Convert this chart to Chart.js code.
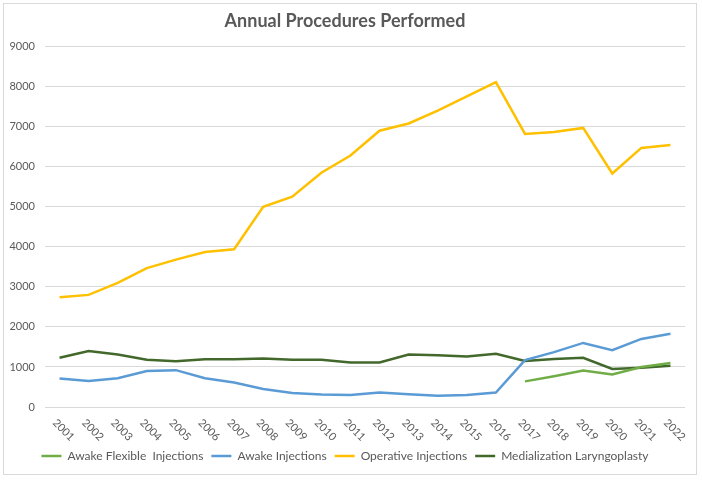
<!DOCTYPE html>
<html>
<head>
<meta charset="utf-8">
<script src="https://cdn.jsdelivr.net/npm/chart.js@4.4.1/dist/chart.umd.min.js"></script>
<style>
  html, body { margin: 0; padding: 0; background: #fff; }
  #wrap {
    position: absolute; left: 3px; top: 3px;
    width: 692px; height: 470px;
    border: 1px solid #d9d9d9;
  }
</style>
</head>
<body>
<div id="wrap"><canvas id="procChart"></canvas></div>
<script>
// Chart data
const years = ['2001', '2002', '2003', '2004', '2005', '2006', '2007', '2008', '2009', '2010', '2011',
  '2012', '2013', '2014', '2015', '2016', '2017', '2018', '2019', '2020', '2021', '2022'];

const awakeFlexible = [null, null, null, null, null, null, null, null, null, null, null,
  null, null, null, null, null, 640, 770, 910, 810, 1000, 1100];
const awakeInjections = [710, 650, 720, 900, 920, 720, 610, 450, 350, 310, 300,
  360, 320, 280, 300, 360, 1170, 1370, 1600, 1420, 1700, 1830];
const operativeInjections = [2740, 2800, 3100, 3470, 3680, 3870, 3940, 5000, 5250, 5850, 6280,
  6900, 7080, 7400, 7760, 8110, 6820, 6870, 6970, 5830, 6470, 6540];
const medialization = [1230, 1400, 1310, 1180, 1140, 1190, 1190, 1210, 1180, 1180, 1110,
  1110, 1310, 1290, 1260, 1330, 1150, 1200, 1230, 950, 980, 1030];

const yTicks = [0, 1000, 2000, 3000, 4000, 5000, 6000, 7000, 8000, 9000];

const FONT = 'Lato, "Open Sans", sans-serif';
const GREY = '#595959';

function line(label, data, color) {
  return {
    label: label,
    data: data,
    borderColor: color,
    backgroundColor: color,
    borderWidth: 2.5,
    pointRadius: 0,
    pointHoverRadius: 0,
    tension: 0,
    spanGaps: false
  };
}

// Excel style labels rotated clockwise, drawn at the category scale positions
const slantedLabels = {
  id: 'slantedLabels',
  afterDraw(chart) {
    const x = chart.scales.x;
    const ctx = chart.ctx;
    ctx.save();
    ctx.font = '11px ' + FONT;
    ctx.fillStyle = GREY;
    ctx.textAlign = 'left';
    ctx.textBaseline = 'middle';
    x.ticks.forEach((t, i) => {
      const px = x.getPixelForTick(i);
      ctx.save();
      ctx.translate(px - 5, x.top + 14);
      ctx.rotate(Math.PI / 4);
      ctx.fillText(years[i], 0, 0);
      ctx.restore();
    });
    ctx.restore();
  }
};

new Chart(document.getElementById('procChart'), {
  type: 'line',
  data: {
    labels: years,
    datasets: [
      line('Awake Flexible  Injections', awakeFlexible, '#70AD47'),
      line('Awake Injections', awakeInjections, '#5B9BD5'),
      line('Operative Injections', operativeInjections, '#FFC000'),
      line('Medialization Laryngoplasty', medialization, '#43682B')
    ]
  },
  options: {
    responsive: true,
    maintainAspectRatio: false,
    animation: false,
    layout: { padding: { left: 1, right: 11, top: 0, bottom: 2 } },
    plugins: {
      title: {
        display: true,
        text: 'Annual Procedures Performed',
        color: GREY,
        font: { family: FONT, size: 18, weight: 'bold' },
        padding: { top: 6, bottom: 15 }
      },
      legend: {
        position: 'bottom',
        labels: {
          color: GREY,
          font: { family: FONT, size: 12 },
          usePointStyle: true,
          pointStyle: 'line',
          pointStyleWidth: 20,
          boxWidth: 20,
          boxHeight: 8,
          padding: 8
        }
      },
      tooltip: { enabled: false }
    },
    scales: {
      x: {
        offset: true,
        grid: { display: false },
        border: { display: false },
        ticks: { display: false },
        afterFit(scale) { scale.height = 35; }
      },
      y: {
        min: 0,
        max: 9000,
        afterBuildTicks(scale) { scale.ticks = yTicks.map(v => ({ value: v })); },
        afterFit(scale) { scale.width = 40; },
        grid: { color: '#d9d9d9', drawTicks: false },
        border: { display: false },
        ticks: {
          color: GREY,
          font: { family: FONT, size: 11 },
          padding: 10,
          callback: v => String(v)
        }
      }
    }
  },
  plugins: [slantedLabels]
});
</script>
</body>
</html>
